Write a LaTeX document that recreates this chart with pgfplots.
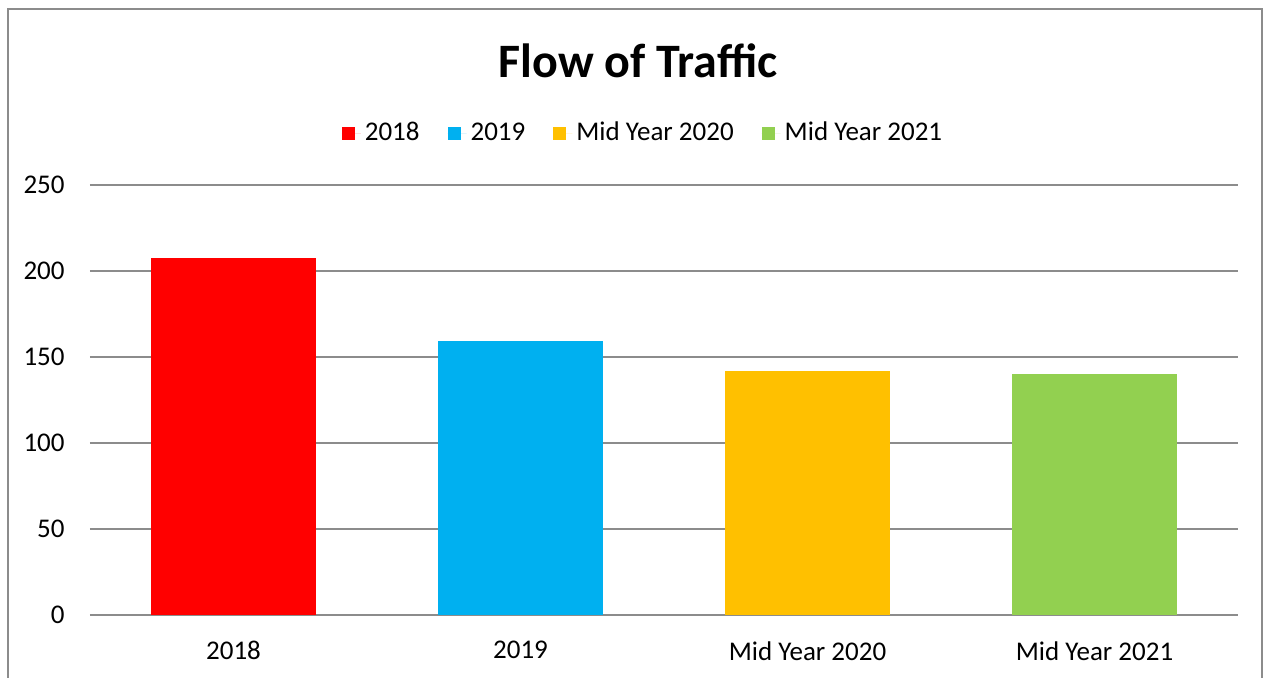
\documentclass[border=0pt]{standalone}
\usepackage{pgfplots}
\pgfplotsset{compat=1.18}
\usepackage{fontspec}
\setmainfont{Carlito}

\definecolor{c18}{HTML}{FF0000}
\definecolor{c19}{HTML}{00B0F0}
\definecolor{c20}{HTML}{FFC000}
\definecolor{c21}{HTML}{92D050}
\definecolor{gridgray}{HTML}{8C8C8C}

\begin{document}
\begin{tikzpicture}
  % 1270x677 px at 0.5pt per px
  \useasboundingbox (0pt,0pt) rectangle (635pt,-338.5pt);
  \draw[gridgray, line width=1pt] (4pt,-340pt) -- (4pt,-4.5pt) -- (631pt,-4.5pt) -- (631pt,-340pt);
  \node[font=\fontsize{24}{28}\selectfont\bfseries] at (319pt,-30.5pt) {Flow of Traffic};

  \begin{axis}[
    at={(45pt,-307.5pt)}, anchor=south west,
    scale only axis,
    width=574pt, height=215pt,
    xmin=-0.5, xmax=3.5,
    ymin=0, ymax=250,
    xtick={0,1,2,3},
    xticklabels={2018,2019,Mid Year 2020,Mid Year 2021},
    ytick={0,50,100,150,200,250},
    major tick length=0pt,
    axis line style={draw=none},
    ymajorgrids=true,
    major grid style={gridgray, line width=1pt},
    tick label style={font=\fontsize{13.5}{16}\selectfont},
    /pgf/number format/assume math mode=true,
    yticklabel style={inner sep=0pt, xshift=-12.5pt},
    xticklabel style={inner sep=0pt, yshift=-13pt},
    ybar, bar width=82.5pt, bar shift=0pt,
    legend columns=4,
    legend style={at={(0.5,1.1256)}, anchor=center, xshift=-10pt, yshift=-1pt, draw=none,
      font=\fontsize{13.5}{16}\selectfont,
      /tikz/every even column/.append style={column sep=12pt}},
    legend image code/.code={
      \fill[#1] (0pt,-3.25pt) rectangle (6.5pt,3.25pt);
      \path (0pt,0pt) -- (9.5pt,0pt);},
    ]
    \addplot[fill=c18, draw=none] coordinates {(0,207.5)};
    \addplot[fill=c19, draw=none] coordinates {(1,159.3)};
    \addplot[fill=c20, draw=none] coordinates {(2,141.9)};
    \addplot[fill=c21, draw=none] coordinates {(3,140.1)};
    \legend{2018,2019,Mid Year 2020,Mid Year 2021}
  \end{axis}
\end{tikzpicture}
\end{document}
